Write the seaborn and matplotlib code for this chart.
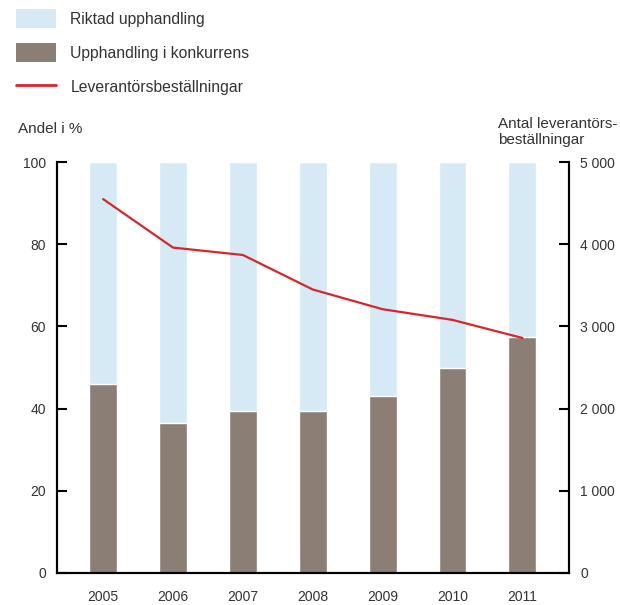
import numpy as np
import pandas as pd
import matplotlib
matplotlib.use('Agg')
import matplotlib.pyplot as plt
import seaborn as sns
from matplotlib.patches import Patch
from matplotlib.lines import Line2D

# Data
years = ['2005', '2006', '2007', '2008', '2009', '2010', '2011']
konkurrens = [46, 36.5, 39.5, 39.5, 43, 50, 57.5]      # Upphandling i konkurrens, %
riktad = [100 - v for v in konkurrens]                 # Riktad upphandling, %
bestallningar = [4550, 3960, 3870, 3450, 3210, 3080, 2860]

pct_ticks = [0, 20, 40, 60, 80, 100]
antal_ticks = [0, 1000, 2000, 3000, 4000, 5000]
antal_labels = ['0', '1 000', '2 000', '3 000', '4 000', '5 000']

blue = '#d5eaf5'
brown = '#8a7e75'
red = '#d9262b'
txt = '#333333'

sns.set_style('white')
plt.rcParams['font.family'] = ['Liberation Sans', 'DejaVu Sans']

df = pd.DataFrame({'year': years, 'konk': konkurrens, 'total': [100] * len(years)})

fig = plt.figure(figsize=(6.2, 6.05), dpi=100)
ax = fig.add_axes([0.092, 0.053, 0.826, 0.679])

sns.barplot(data=df, x='year', y='total', color=blue, width=0.4, saturation=1, ax=ax)
sns.barplot(data=df, x='year', y='konk', color=brown, width=0.4, saturation=1, ax=ax)

ax.set_ylim(0, 100)
ax.set_xlim(-0.66, 6.67)
ax.set_yticks(pct_ticks)
ax.set_xlabel('')
ax.set_ylabel('')
ax.tick_params(axis='y', direction='in', length=7, width=1.5, colors='black',
               labelcolor=txt, labelsize=10, pad=8)
ax.tick_params(axis='x', length=0, labelcolor=txt, labelsize=10, pad=12)

ax2 = ax.twinx()
sns.lineplot(x=years, y=bestallningar, color=red, linewidth=1.6, sort=False, ax=ax2)
ax2.set_ylim(0, 5000)
ax2.set_yticks(antal_ticks)
ax2.set_yticklabels(antal_labels)
ax2.set_ylabel('')
ax2.tick_params(axis='y', direction='in', length=7, width=1.5, colors='black',
                labelcolor=txt, labelsize=10, pad=8)

for a in (ax, ax2):
    a.spines['top'].set_visible(False)
    for s in ('left', 'right', 'bottom'):
        a.spines[s].set_color('black')
        a.spines[s].set_linewidth(1.5)

fig.text(0.029, 0.775, 'Andel i %', fontsize=11, color=txt, va='bottom')
fig.text(0.803, 0.757, 'Antal leverantörs-\nbeställningar', fontsize=11,
         color=txt, va='bottom', linespacing=1.15)

handles = [Patch(facecolor=blue, edgecolor='none'),
           Patch(facecolor=brown, edgecolor='none'),
           Line2D([0], [0], color=red, linewidth=2)]
labels = ['Riktad upphandling', 'Upphandling i konkurrens', 'Leverantörsbeställningar']
fig.legend(handles, labels, loc='upper left', bbox_to_anchor=(0.026, 0.985),
           frameon=False, fontsize=11.3, handlelength=2.55, handleheight=1.5,
           labelspacing=0.95, handletextpad=0.9, borderaxespad=0, borderpad=0,
           labelcolor=txt)

fig.savefig('out.png', dpi=100)
